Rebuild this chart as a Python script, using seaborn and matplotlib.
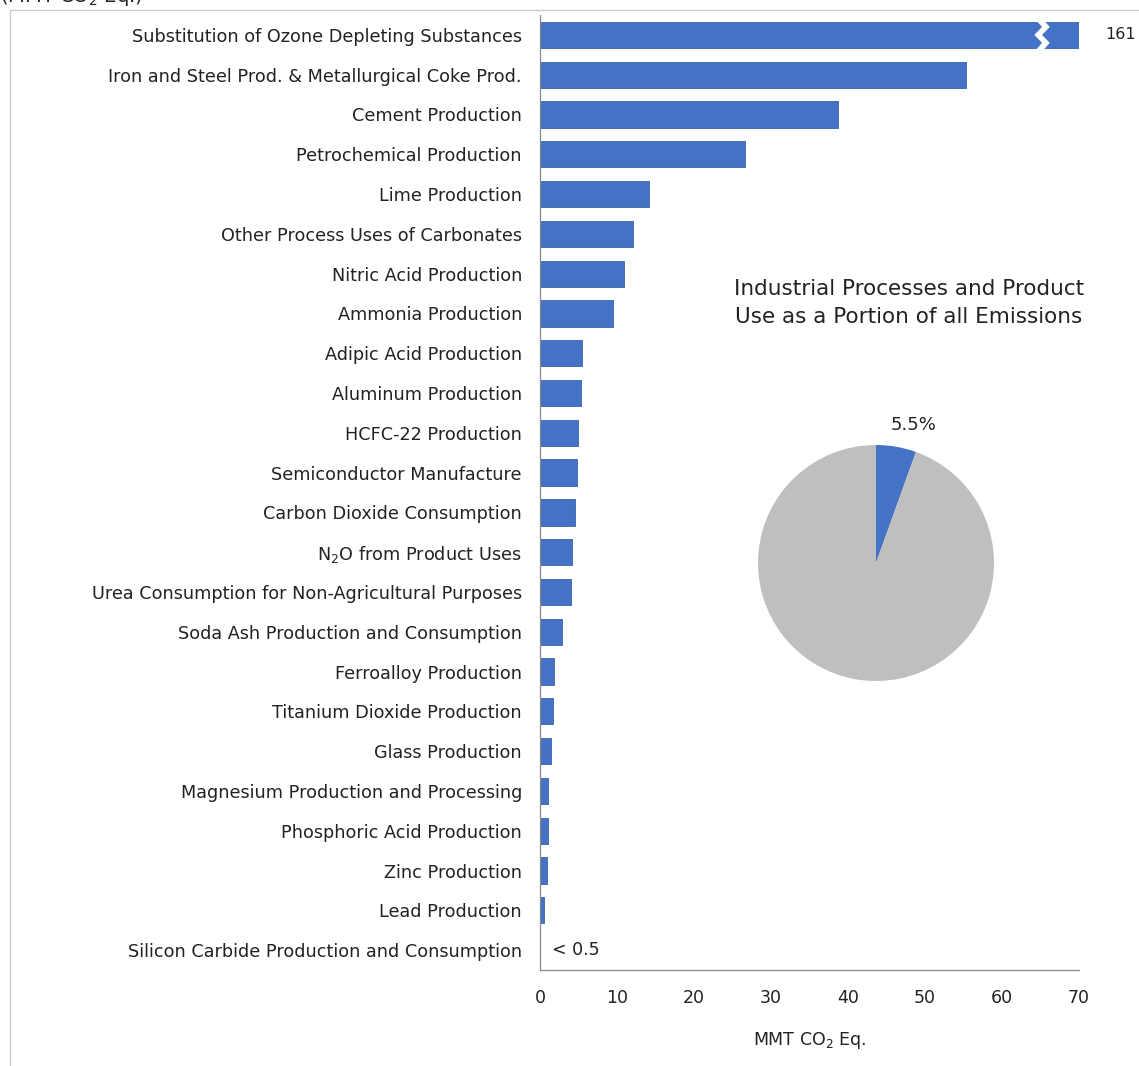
import matplotlib
matplotlib.use("Agg")
import matplotlib.pyplot as plt
import seaborn as sns
import pandas as pd
import numpy as np
from matplotlib.patches import Polygon, Rectangle

categories = [
    "Substitution of Ozone Depleting Substances",
    "Iron and Steel Prod. & Metallurgical Coke Prod.",
    "Cement Production",
    "Petrochemical Production",
    "Lime Production",
    "Other Process Uses of Carbonates",
    "Nitric Acid Production",
    "Ammonia Production",
    "Adipic Acid Production",
    "Aluminum Production",
    "HCFC-22 Production",
    "Semiconductor Manufacture",
    "Carbon Dioxide Consumption",
    "N$_{\\mathregular{2}}$O from Product Uses",
    "Urea Consumption for Non-Agricultural Purposes",
    "Soda Ash Production and Consumption",
    "Ferroalloy Production",
    "Titanium Dioxide Production",
    "Glass Production",
    "Magnesium Production and Processing",
    "Phosphoric Acid Production",
    "Zinc Production",
    "Lead Production",
    "Silicon Carbide Production and Consumption",
]
values = [161, 55.3, 38.7, 26.6, 14.2, 12.1, 10.9, 9.5, 5.5, 5.3, 4.9, 4.8, 4.5,
          4.2, 4.0, 2.9, 1.8, 1.7, 1.4, 1.0, 1.0, 0.9, 0.5, 0.0]
x_ticks = [0, 10, 20, 30, 40, 50, 60, 70]
pie_labels = ["Industrial Processes and Product Use", "Other"]
pie_shares = [5.5, 94.5]

AXMAX = 70
BLUE = "#4472C4"
GREY = "#BFBFBF"

sns.set_theme(style="white")
plt.rcParams["font.family"] = ["DejaVu Sans"]
plt.rcParams["mathtext.fontset"] = "dejavusans"

W, H = 1139, 1066
fig = plt.figure(figsize=(W / 100, H / 100), dpi=100)

# Outer frame
fig.patches.append(Rectangle((10 / W, -0.01), 1.1, 1 - 10 / H + 0.01, transform=fig.transFigure,
                             fill=False, edgecolor="#cccccc", linewidth=1.0))
fig.text(0.0, 1 - 8 / H, "(MMT CO$_{\\mathregular{2}}$ Eq.)", fontsize=14, va="bottom", ha="left",
         color="#222222")

ax = fig.add_axes([540 / W, (H - 970) / H, 539 / W, 955 / H])
df = pd.DataFrame({"category": categories, "value": values})
df["shown"] = df["value"].clip(upper=AXMAX)
sns.barplot(data=df, y="category", x="shown", orient="h", color=BLUE, saturation=1,
            width=0.66, ax=ax, edgecolor="#3a64b0", linewidth=0.6)
ax.set_xlim(0, AXMAX)
ax.set_ylim(len(categories) - 0.5, -0.5)
ax.set_xticks(x_ticks)
ax.set_xticklabels([str(t) for t in x_ticks], fontsize=12.5, color="#222222")
ax.tick_params(axis="x", length=5, width=0.8, color="#888888", direction="out", pad=9)
ax.tick_params(axis="y", length=0, pad=13, labelsize=12.7, labelcolor="#222222")
ax.set_ylabel("")
ax.set_xlabel("MMT CO$_{\\mathregular{2}}$ Eq.", fontsize=12.5, color="#222222", labelpad=16)
for s in ["top", "right"]:
    ax.spines[s].set_visible(False)
for s in ["left", "bottom"]:
    ax.spines[s].set_color("#888888")
    ax.spines[s].set_linewidth(0.9)

# Break marker on the clipped bar and its value label
for i, v in enumerate(values):
    if v > AXMAX:
        bx = AXMAX * 0.94
        zig = [(bx - 0.6, i - 0.42), (bx + 0.4, i - 0.2), (bx - 0.6, i), (bx + 0.4, i + 0.2), (bx - 0.6, i + 0.42)]
        left = [(px - 1.0, py) for px, py in zig]
        poly = Polygon(zig + left[::-1], closed=True, facecolor="white", edgecolor="none", zorder=5)
        ax.add_patch(poly)
        ax.text(AXMAX + 3.4, i, f"{v:g}", va="center", ha="left", fontsize=11.5, color="#222222",
                clip_on=False)
    if v < 0.5:
        ax.text(1.5, i, "< 0.5", va="center", ha="left", fontsize=12.5, color="#222222")

# Pie chart inset
fig.text(909 / W, 1 - 303 / H, "Industrial Processes and Product\nUse as a Portion of all Emissions",
         ha="center", va="center", fontsize=15.5, color="#222222", linespacing=1.45)
pax = fig.add_axes([758 / W, (H - 681) / H, 236 / W, 236 / H])
pax.pie(pie_shares, colors=[BLUE, GREY], startangle=90, counterclock=False,
        wedgeprops=dict(linewidth=0))
pax.set_xlim(-1, 1)
pax.set_ylim(-1, 1)
pax.set_aspect("equal")
fig.text(913 / W, 1 - 425 / H, f"{pie_shares[0]:g}%", ha="center", va="center", fontsize=13,
         color="#222222")

fig.savefig("out.png", dpi=100)
